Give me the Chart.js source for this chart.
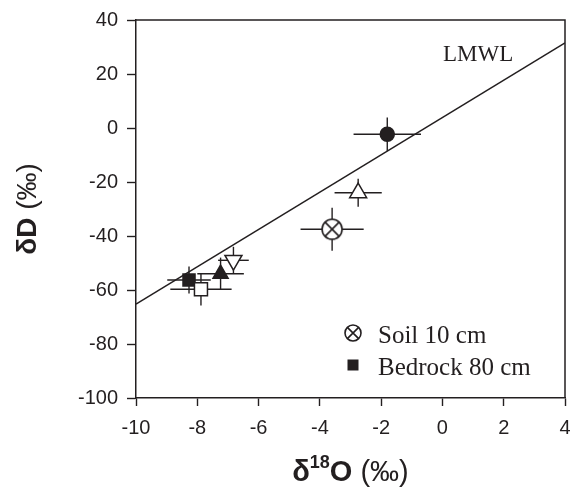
<!DOCTYPE html>
<html>
<head>
<meta charset="utf-8">
<script src="https://cdn.jsdelivr.net/npm/chart.js@4.4.0/dist/chart.umd.min.js"></script>
<style>
  html, body { margin: 0; padding: 0; background: #fff; overflow: hidden; }
  #wrap { position: absolute; left: 0; top: 0; width: 570px; height: 487px; }
</style>
</head>
<body>
<div id="wrap"><canvas id="isoChart"></canvas></div>
<script>
// Valeurs
const d18O = [-1.8, -2.75, -3.6, -6.82, -7.24, -8.27, -7.88];
const dD = [-2.3, -24, -37.5, -49, -54, -56.3, -59.7];
const d18OErr = [1.1, 0.77, 1.03, 0.5, 0.76, 0.71, 1.0];
const dDErr = [6.2, 5.2, 8, 5, 6, 5, 6];
const markerStyles = ['circle', 'triangle', 'crossCircle', 'triangleDown', 'triangle', 'rect', 'rect'];
const markerFilled = [true, false, false, false, true, true, false];
const markerSizes = [7, 9.8, 10, 9.8, 8.7, 8.5, 9.2];
const legendLabels = ['Soil 10 cm', 'Bedrock 80 cm'];
const legendMarkers = ['crossCircle', 'rect'];
const lmwlX = [-10, 4];
const lmwlY = [-65.2, 31.5];
const xTicks = [-10, -8, -6, -4, -2, 0, 2, 4];
const yTicks = [-100, -80, -60, -40, -20, 0, 20, 40];

const INK = '#231f20';
const SANS = '"Liberation Sans", Arial, sans-serif';
const SERIF = '"Liberation Serif", "Times New Roman", serif';

// Cercle barré (⊗)
function makeCrossCircle(r) {
    const c = document.createElement('canvas');
    const s = Math.ceil(2 * r + 4);
    c.width = s; c.height = s;
    const g = c.getContext('2d');
    g.fillStyle = '#fff';
    g.strokeStyle = INK;
    g.lineWidth = 1.6;
    g.beginPath();
    g.arc(s / 2, s / 2, r, 0, 2 * Math.PI);
    g.fill();
    g.stroke();
    const k = r * Math.SQRT1_2;
    g.beginPath();
    g.moveTo(s / 2 - k, s / 2 - k); g.lineTo(s / 2 + k, s / 2 + k);
    g.moveTo(s / 2 + k, s / 2 - k); g.lineTo(s / 2 - k, s / 2 + k);
    g.stroke();
    return c;
}
const crossCircleBig = makeCrossCircle(10);
const crossCircleSmall = makeCrossCircle(8);

function styleOf(name, big) {
    if (name === 'crossCircle') return big ? crossCircleBig : crossCircleSmall;
    if (name === 'triangleDown') return 'triangle';
    return name;
}

// Barres d'erreur : un segment par direction et par point
const errorSets = [];
d18O.forEach((x, i) => {
    const y = dD[i];
    errorSets.push({
        data: [{ x: x - d18OErr[i], y: y }, { x: x + d18OErr[i], y: y }],
        showLine: true, borderColor: INK, borderWidth: 1.4, pointRadius: 0, order: 2
    });
    errorSets.push({
        data: [{ x: x, y: y - dDErr[i] }, { x: x, y: y + dDErr[i] }],
        showLine: true, borderColor: INK, borderWidth: 1.4, pointRadius: 0, order: 2
    });
});

const pointsSet = {
    data: d18O.map((x, i) => ({ x: x, y: dD[i] })),
    showLine: false,
    pointStyle: markerStyles.map(s => styleOf(s, true)),
    pointRotation: markerStyles.map(s => s === 'triangleDown' ? 180 : 0),
    pointRadius: markerSizes,
    pointHoverRadius: markerSizes,
    pointBackgroundColor: markerFilled.map(f => f ? INK : '#fff'),
    pointBorderColor: INK,
    pointBorderWidth: 1.5,
    order: 0
};

const lmwlSet = {
    data: lmwlX.map((x, i) => ({ x: x, y: lmwlY[i] })),
    showLine: true, borderColor: INK, borderWidth: 1.4, pointRadius: 0, order: 3
};

// Cadre, titres d'axes, légende et étiquette LMWL
const decorations = {
    id: 'decorations',
    afterDraw(chart) {
        const ctx = chart.ctx;
        const a = chart.chartArea;
        ctx.save();
        ctx.strokeStyle = INK;
        ctx.lineWidth = 1.5;
        ctx.beginPath();
        ctx.moveTo(a.left, a.top); ctx.lineTo(a.right, a.top); ctx.lineTo(a.right, a.bottom);
        ctx.stroke();

        ctx.fillStyle = INK;
        ctx.textBaseline = 'alphabetic';

        // Titre de l'axe x : δ18O (‰)
        const parts = [
            { t: 'δ', f: 'bold 29px ' + SANS, dy: 0 },
            { t: '18', f: 'bold 18px ' + SANS, dy: -13 },
            { t: 'O', f: 'bold 29px ' + SANS, dy: 0 },
            { t: ' (‰)', f: '29px ' + SANS, dy: 0 }
        ];
        let total = 0;
        parts.forEach(p => { ctx.font = p.f; p.w = ctx.measureText(p.t).width; total += p.w; });
        let x = (a.left + a.right) / 2 - total / 2;
        const base = a.bottom + 83;
        parts.forEach(p => { ctx.font = p.f; ctx.fillText(p.t, x, base + p.dy); x += p.w; });

        // Titre de l'axe y : δD (‰)
        ctx.save();
        ctx.translate(36, (a.top + a.bottom) / 2);
        ctx.rotate(-Math.PI / 2);
        const yparts = [
            { t: 'δD', f: 'bold 28px ' + SANS },
            { t: ' (‰)', f: '28px ' + SANS }
        ];
        let yt = 0;
        yparts.forEach(p => { ctx.font = p.f; p.w = ctx.measureText(p.t).width; yt += p.w; });
        let yx = -yt / 2;
        yparts.forEach(p => { ctx.font = p.f; ctx.fillText(p.t, yx, 0); yx += p.w; });
        ctx.restore();

        // LMWL
        ctx.font = '23px ' + SERIF;
        ctx.fillText('LMWL', a.right - 122, a.top + 41);

        // Légende
        const rows = [a.bottom - 65, a.bottom - 33];
        legendLabels.forEach((lab, i) => {
            const mx = a.right - 212;
            const my = rows[i];
            const st = styleOf(legendMarkers[i], false);
            if (st === 'rect') {
                ctx.fillRect(mx - 5.5, my - 5.5, 11, 11);
            } else {
                ctx.drawImage(st, mx - st.width / 2, my - st.height / 2);
            }
            ctx.font = '25px ' + SERIF;
            ctx.fillText(lab, mx + 25, my + 10);
        });
        ctx.restore();
    }
};

const tickFont = { family: SANS, size: 20 };

new Chart(document.getElementById('isoChart').getContext('2d'), {
    type: 'scatter',
    data: { datasets: [pointsSet, ...errorSets, lmwlSet] },
    options: {
        responsive: true,
        maintainAspectRatio: false,
        animation: false,
        layout: { autoPadding: false, padding: { top: 20, right: 5, left: 0, bottom: 0 } },
        plugins: { legend: { display: false }, tooltip: { enabled: false } },
        scales: {
            x: {
                type: 'linear', min: -10, max: 4,
                afterBuildTicks: s => { s.ticks = xTicks.map(v => ({ value: v })); },
                ticks: { font: tickFont, color: INK, padding: 10, maxRotation: 0 },
                grid: { drawOnChartArea: false, drawTicks: true, tickLength: 8, tickColor: INK, tickWidth: 1.4 },
                border: { display: true, color: INK, width: 1.5 },
                afterFit: s => { s.height = 89; s.paddingLeft = 0; s.paddingRight = 0; }
            },
            y: {
                type: 'linear', min: -100, max: 40,
                afterBuildTicks: s => { s.ticks = yTicks.map(v => ({ value: v })); },
                ticks: { font: tickFont, color: INK, padding: 9 },
                grid: { drawOnChartArea: false, drawTicks: true, tickLength: 9, tickColor: INK, tickWidth: 1.4 },
                border: { display: true, color: INK, width: 1.5 },
                afterFit: s => { s.width = 136; s.paddingTop = 0; s.paddingBottom = 0; }
            }
        }
    },
    plugins: [decorations]
});
</script>
</body>
</html>
